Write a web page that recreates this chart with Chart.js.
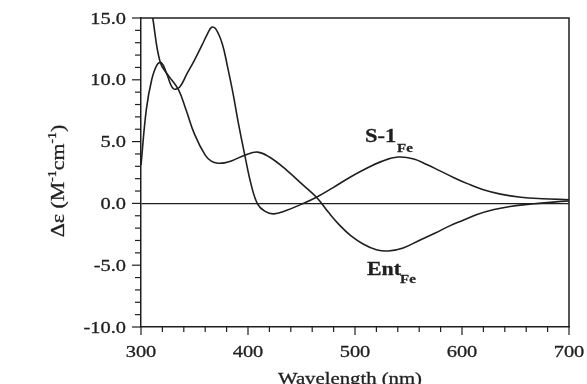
<!DOCTYPE html>
<html>
<head>
<meta charset="utf-8">
<script src="https://cdn.jsdelivr.net/npm/chart.js@4"></script>
<style>
  html, body { margin: 0; padding: 0; background: #fff; }
  #wrap { width: 587px; height: 384px; }
</style>
</head>
<body>
<div id="wrap"><canvas id="cd"></canvas></div>
<script>
// CD spectra
const entWl = [300, 305, 311, 318, 326, 335, 342, 350, 360, 366, 372, 378, 385, 397, 409, 420, 436, 450, 464, 475, 486, 496, 508, 520, 531, 545, 560, 575, 589, 600, 614, 630, 645, 665, 685, 700];
const entDe = [21, 18.3, 15, 11.4, 10.3, 9.2, 7.6, 5.6, 3.9, 3.4, 3.25, 3.28, 3.45, 3.9, 4.15, 3.75, 2.7, 1.6, 0.5, -0.7, -1.8, -2.6, -3.3, -3.75, -3.85, -3.6, -3.0, -2.4, -1.8, -1.4, -0.9, -0.5, -0.25, -0.05, 0.1, 0.2];

const s1Wl = [300, 305, 310, 315, 319, 324, 330, 336, 343, 350, 357, 362, 366, 370, 376, 381, 386, 391, 397, 403, 409, 416, 424, 435, 449, 464, 480, 495, 510, 525, 540, 555, 567, 579, 592, 605, 620, 636, 655, 675, 700];
const s1De = [3.1, 7.6, 10.0, 11.2, 11.4, 10.5, 9.3, 9.4, 10.5, 11.6, 12.8, 13.7, 14.25, 14.1, 12.9, 11.0, 8.9, 6.5, 3.9, 1.5, -0.05, -0.65, -0.85, -0.6, -0.1, 0.5, 1.3, 2.1, 2.8, 3.4, 3.75, 3.6, 3.15, 2.65, 2.1, 1.6, 1.1, 0.75, 0.5, 0.38, 0.3];

const xTicks = [300, 400, 500, 600, 700];
const yTicks = [15, 10, 5, 0, -5, -10];

const ink = '#1f1f1f';
const serif = '"Liberation Serif", "Times New Roman", serif';

function pts(xs, ys) {
  return xs.map((x, i) => ({ x: x, y: ys[i] }));
}

// text a bit wider and heavier than the font, like the scan
function wideText(ctx, text, x, y, font, align, sx) {
  ctx.save();
  ctx.font = font;
  ctx.translate(x, y);
  ctx.scale(sx, 1);
  ctx.textAlign = align;
  ctx.textBaseline = 'alphabetic';
  ctx.lineWidth = 0.3;
  ctx.strokeText(text, 0, 0);
  ctx.fillText(text, 0, 0);
  ctx.restore();
}

const decor = {
  id: 'decor',
  afterDatasetsDraw(chart) {
    const ctx = chart.ctx;
    const a = chart.chartArea;
    const xs = chart.scales.x, ys = chart.scales.y;
    ctx.save();
    ctx.strokeStyle = ink;
    ctx.fillStyle = ink;

    // top and right frame
    ctx.lineWidth = 1.5;
    ctx.beginPath();
    ctx.moveTo(a.left, a.top);
    ctx.lineTo(a.right, a.top);
    ctx.lineTo(a.right, a.bottom);
    ctx.stroke();

    // tick marks, outside
    ctx.lineWidth = 1.2;
    ys.ticks.forEach(t => {
      const py = ys.getPixelForValue(t.value);
      const len = t.value % 5 === 0 ? 9 : 6;
      ctx.beginPath();
      ctx.moveTo(a.left - len, py);
      ctx.lineTo(a.left, py);
      ctx.stroke();
    });
    xs.ticks.forEach(t => {
      const px = xs.getPixelForValue(t.value);
      const len = t.value % 100 === 0 ? 8 : 5;
      ctx.beginPath();
      ctx.moveTo(px, a.bottom);
      ctx.lineTo(px, a.bottom + len);
      ctx.stroke();
    });

    // tick labels
    yTicks.forEach(v => {
      wideText(ctx, v.toFixed(1), 126, ys.getPixelForValue(v) + 5.6, '17px ' + serif, 'right', 1.2);
    });
    xTicks.forEach(v => {
      wideText(ctx, String(v), xs.getPixelForValue(v), 357, '17px ' + serif, 'center', 1.2);
    });

    // axis titles
    wideText(ctx, 'Wavelength (nm)', 350, 384, '17px ' + serif, 'center', 1.22);

    ctx.save();
    ctx.translate(64, 181);
    ctx.rotate(-Math.PI / 2);
    ctx.scale(1.15, 1);
    ctx.lineWidth = 0.3;
    const parts = [
      ['Δε (M', '19px ' + serif, 0],
      ['-1', '12px ' + serif, -8],
      ['cm', '19px ' + serif, 0],
      ['-1', '12px ' + serif, -8],
      [')', '19px ' + serif, 0]
    ];
    let w = 0;
    parts.forEach(p => { ctx.font = p[1]; w += ctx.measureText(p[0]).width; });
    let cx = -w / 2;
    ctx.textAlign = 'left';
    parts.forEach(p => {
      ctx.font = p[1];
      ctx.strokeText(p[0], cx, p[2]);
      ctx.fillText(p[0], cx, p[2]);
      cx += ctx.measureText(p[0]).width;
    });
    ctx.restore();

    // curve labels
    wideText(ctx, 'S-1', 365, 142, 'bold 19px ' + serif, 'left', 1.18);
    wideText(ctx, 'Fe', 397, 152, 'bold 13px ' + serif, 'left', 1.15);
    wideText(ctx, 'Ent', 367, 275, 'bold 19px ' + serif, 'left', 1.15);
    wideText(ctx, 'Fe', 400, 283, 'bold 13px ' + serif, 'left', 1.15);

    ctx.restore();
  }
};

new Chart(document.getElementById('cd'), {
  type: 'line',
  data: {
    datasets: [{
      label: 'S-1Fe',
      data: pts(s1Wl, s1De),
      borderColor: ink,
      borderWidth: 1.6,
      pointRadius: 0,
      tension: 0.4
    }, {
      label: 'EntFe',
      data: pts(entWl, entDe),
      borderColor: ink,
      borderWidth: 1.6,
      pointRadius: 0,
      tension: 0.4
    }]
  },
  options: {
    responsive: true,
    maintainAspectRatio: false,
    animation: false,
    layout: { padding: { left: 0, right: 18, top: 18, bottom: 0 } },
    plugins: {
      legend: { display: false },
      tooltip: { enabled: false }
    },
    scales: {
      x: {
        type: 'linear',
        min: 300,
        max: 700,
        ticks: { display: false, stepSize: 20 },
        grid: { display: false },
        border: { display: true, color: ink, width: 1.5 },
        afterFit: s => { s.height = 57; }
      },
      y: {
        min: -10,
        max: 15,
        ticks: { display: false, stepSize: 1 },
        grid: {
          drawTicks: false,
          color: c => (c.tick && c.tick.value === 0) ? ink : 'rgba(0,0,0,0)',
          lineWidth: 1.3
        },
        border: { display: true, color: ink, width: 1.5 },
        afterFit: s => { s.width = 141; }
      }
    }
  },
  plugins: [decor]
});
</script>
</body>
</html>
